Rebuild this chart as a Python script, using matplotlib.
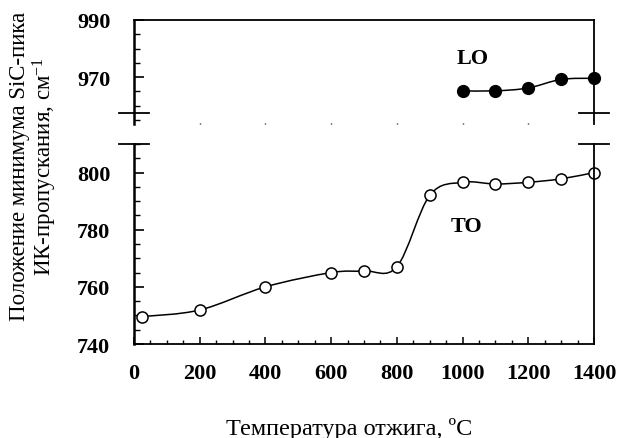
import numpy as np
import matplotlib
matplotlib.use("Agg")
from matplotlib import pyplot as plt
from matplotlib.path import Path
from matplotlib.patches import PathPatch
from matplotlib.ticker import MultipleLocator, FixedLocator
import matplotlib.transforms as mtransforms

# Values
temp_to = [25, 200, 400, 600, 700, 800, 900, 1000, 1100, 1200, 1300, 1400]
pos_to = [749.6, 751.9, 760.0, 765.0, 765.6, 767.0, 792.0, 796.6, 796.0, 796.6, 797.8, 800.0]

temp_lo = [1000, 1100, 1200, 1300, 1400]
pos_lo = [965.2, 965.2, 966.2, 969.2, 969.6]

x_ticks = [0, 200, 400, 600, 800, 1000, 1200, 1400]
y_ticks_low = [740, 760, 780, 800]
y_ticks_high = [970, 990]

plt.rcParams['font.family'] = ['Liberation Serif', 'DejaVu Serif']
plt.rcParams['mathtext.fontset'] = 'custom'
plt.rcParams['mathtext.rm'] = 'Liberation Serif'
plt.rcParams['mathtext.it'] = 'Liberation Serif:italic'

TICK_FS = 16
LABEL_FS = 16.5


def smooth_path(x, y):
    # bezier through the points, like a "smoothed line" in a spreadsheet
    pts = np.column_stack([np.asarray(x, float), np.asarray(y, float)])
    n = len(pts)
    verts = [pts[0]]
    codes = [Path.MOVETO]
    for i in range(n - 1):
        p0 = pts[max(i - 1, 0)]
        p1 = pts[i]
        p2 = pts[i + 1]
        p3 = pts[min(i + 2, n - 1)]
        verts += [p1 + (p2 - p0) / 6, p2 - (p3 - p1) / 6, p2]
        codes += [Path.CURVE4] * 3
    return Path(verts, codes)


def break_mark(ax, y):
    trans = mtransforms.blended_transform_factory(ax.transAxes, ax.transData)
    for x0 in (0, 1):
        ax.plot([x0 - 0.032, x0 + 0.032], [y, y], transform=trans, color='k',
                lw=1.3, clip_on=False)


fig = plt.figure(figsize=(6.22, 4.39), dpi=100)
ax_hi = fig.add_axes([0.2154, 0.7153, 0.7395, 0.2369])
ax_lo = fig.add_axes([0.2154, 0.2141, 0.7395, 0.4556])

# Lower panel: TO band
ax_lo.add_patch(PathPatch(smooth_path(temp_to, pos_to), fill=False, color='k', lw=1.1))
ax_lo.plot(temp_to, pos_to, 'o', ms=8, mfc='white', mec='k', mew=1.1, clip_on=False)
ax_lo.set_xlim(0, 1400)
ax_lo.set_ylim(740, 810)
ax_lo.spines['top'].set_visible(False)
ax_lo.xaxis.set_major_locator(FixedLocator(x_ticks))
ax_lo.xaxis.set_minor_locator(MultipleLocator(50))
ax_lo.tick_params(axis='x', which='major', direction='in', length=5, width=1.1, pad=14,
                  labelsize=TICK_FS)
ax_lo.tick_params(axis='x', which='minor', direction='in', length=3, width=1.0)
ax_lo.yaxis.set_major_locator(FixedLocator(y_ticks_low))
ax_lo.yaxis.set_minor_locator(MultipleLocator(5))
ax_lo.tick_params(axis='y', which='major', direction='in', length=7.5, width=1.2, pad=17,
                  labelsize=TICK_FS)
ax_lo.tick_params(axis='y', which='minor', direction='in', length=4.5, width=1.0)
for lab in ax_lo.get_xticklabels() + ax_lo.get_yticklabels():
    lab.set_fontweight('bold')
ax_lo.text(1012, 781.3, 'TO', fontsize=TICK_FS, fontweight='bold', ha='center', va='center')

# Upper panel: LO band
ax_hi.add_patch(PathPatch(smooth_path(temp_lo, pos_lo), fill=False, color='k', lw=1.1))
ax_hi.plot(temp_lo, pos_lo, 'o', ms=8.5, color='k', clip_on=False)
ax_hi.set_xlim(0, 1400)
ax_hi.set_ylim(953.6, 990)
ax_hi.spines['bottom'].set_visible(False)
ax_hi.xaxis.set_major_locator(FixedLocator(x_ticks[1:-1]))
ax_hi.tick_params(axis='x', which='major', direction='in', length=1, width=1,
                  labelbottom=False)
ax_hi.yaxis.set_major_locator(FixedLocator(y_ticks_high))
ax_hi.yaxis.set_minor_locator(MultipleLocator(5))
ax_hi.tick_params(axis='y', which='major', direction='in', length=7.5, width=1.2, pad=17,
                  labelsize=TICK_FS)
ax_hi.tick_params(axis='y', which='minor', direction='in', length=4.5, width=1.0)
for lab in ax_hi.get_yticklabels():
    lab.set_fontweight('bold')
ax_hi.text(1030, 976.8, 'LO', fontsize=TICK_FS, fontweight='bold', ha='center', va='center')

for ax in (ax_hi, ax_lo):
    for side in ('left', 'right', 'top', 'bottom'):
        ax.spines[side].set_linewidth(1.3)
    ax.spines['left'].set_linewidth(1.8)

break_mark(ax_hi, 957.6)
break_mark(ax_lo, 810)

fig.text(0.055, 0.62, 'Положение минимума SiC-пика\nИК-пропускания, см$^{-1}$',
         rotation=90, ha='center', va='center', multialignment='center',
         fontsize=LABEL_FS, linespacing=1.05)
fig.text(0.561, 0.0091, 'Температура отжига, ºC', ha='center', va='baseline',
         fontsize=LABEL_FS + 1)

fig.savefig('out.png', dpi=100)
